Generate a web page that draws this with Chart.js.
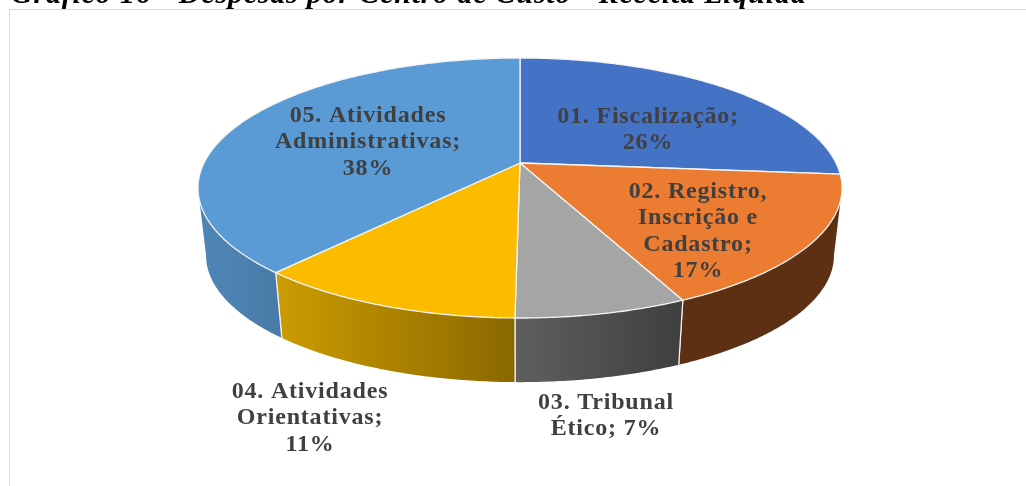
<!DOCTYPE html>
<html><head><meta charset="utf-8">
<style>html,body{margin:0;padding:0;background:#fff;overflow:hidden}canvas{display:block}</style>
<script src="https://cdn.jsdelivr.net/npm/chart.js@4"></script></head>
<body><canvas id="c" width="1026" height="486"></canvas>
<script>
const titleText = 'Gráfico 16 - Despesas por Centro de Custo - Receita Líquida';
const categories = ['01. Fiscalização','02. Registro, Inscrição e Cadastro','03. Tribunal Ético','04. Atividades Orientativas','05. Atividades Administrativas'];
const shares = [26.4, 16.6, 7.2, 11.3, 38.49];
const topColors = ['#4472C4','#EC7C31','#A5A5A5','#FBBC00','#5B9BD5'];
const sideColorsFrom = ['#2F5597','#5E3013','#5F5F5F','#CC9C00','#4F86B8'];
const sideColorsTo = ['#2F5597','#5E3013','#3F3F3F','#8A6800','#4A7BA8'];
const labelLines = [
  ['01. Fiscalização;'],
  ['02. Registro,','Inscrição e','Cadastro;'],
  ['03. Tribunal','Ético;'],
  ['04. Atividades','Orientativas;'],
  ['05. Atividades','Administrativas;']
];

const CX=520, CY=163, RX=316, RY=125.2, K=0.1923;
const DEPTH_SCALE=0.975, DEPTH_Y=68;
function proj(a,bottom){
  const u=Math.cos(a), v=Math.sin(a), d=1-K*v;
  const s=bottom?DEPTH_SCALE:1;
  return [CX+s*RX*u/d, CY+(bottom?DEPTH_Y:0)+s*RY*v/d];
}
function trace(ctx,a0,a1,bottom,first){
  const n=Math.max(2,Math.ceil(Math.abs(a1-a0)/0.01));
  for(let i=0;i<=n;i++){
    const p=proj(a0+(a1-a0)*i/n,bottom);
    if(i===0&&first) ctx.moveTo(p[0],p[1]); else ctx.lineTo(p[0],p[1]);
  }
}
const MIN_A=Math.asin(K), MAX_A=Math.PI-Math.asin(K);
const labelAnchors=[
  {x:648,y:117,inline:false},{x:698,y:192,inline:false},{x:606,y:403,inline:true},
  {x:310,y:392,inline:false},{x:368,y:116,inline:false}
];
const pie3d={
  id:'pie3d',
  beforeDatasetDraw(chart,args){
    const ctx=chart.ctx, arcs=chart.getDatasetMeta(args.index).data;
    ctx.save();
    // side walls
    arcs.forEach((e,i)=>{
      const s=e.startAngle, t=e.endAngle;
      const ranges=[[s,t],[s+2*Math.PI,t+2*Math.PI],[s-2*Math.PI,t-2*Math.PI]];
      ranges.forEach(([a,b])=>{
        const a0=Math.max(a,MIN_A), a1=Math.min(b,MAX_A);
        if(a1<=a0) return;
        const p0=proj(a0,false), p1=proj(a1,false);
        const g=ctx.createLinearGradient(Math.min(p0[0],p1[0]),0,Math.max(p0[0],p1[0]),0);
        g.addColorStop(0,sideColorsFrom[i]); g.addColorStop(1,sideColorsTo[i]);
        ctx.beginPath();
        trace(ctx,a0,a1,false,true);
        trace(ctx,a1,a0,true,false);
        ctx.closePath();
        ctx.fillStyle=g; ctx.fill();
        ctx.strokeStyle='#F4F4F4'; ctx.lineWidth=1.2; ctx.lineJoin='round';
        ctx.beginPath();
        if(a0===a){const p=proj(a0,false),q=proj(a0,true);ctx.moveTo(p[0],p[1]);ctx.lineTo(q[0],q[1]);}
        if(a1===b){const p=proj(a1,false),q=proj(a1,true);ctx.moveTo(p[0],p[1]);ctx.lineTo(q[0],q[1]);}
        ctx.stroke();
      });
    });
    // top faces
    arcs.forEach((e,i)=>{
      ctx.beginPath();
      ctx.moveTo(CX,CY);
      trace(ctx,e.startAngle,e.endAngle,false,false);
      ctx.closePath();
      ctx.fillStyle=topColors[i]; ctx.fill();
      ctx.strokeStyle='#F4F4F4'; ctx.lineWidth=1.3; ctx.lineJoin='round'; ctx.stroke();
    });
    ctx.restore();
    return false;
  },
  afterDraw(chart){
    const ctx=chart.ctx, data=chart.data.datasets[0].data;
    ctx.save();
    // frame
    ctx.strokeStyle='#D9D9D9'; ctx.lineWidth=1;
    ctx.beginPath(); ctx.moveTo(9.5,486); ctx.lineTo(9.5,9.5); ctx.lineTo(1026,9.5); ctx.stroke();
    // title (cropped by the page's top edge, as in the picture)
    ctx.fillStyle='#000'; ctx.textAlign='left'; ctx.textBaseline='alphabetic';
    ctx.font='italic bold 30px "Liberation Serif"';
    ctx.letterSpacing='0.8px';
    ctx.fillText(titleText,11,3);
    // labels
    ctx.font='bold 24px "Liberation Serif"';
    ctx.letterSpacing='0.8px';
    ctx.fillStyle='#404040'; ctx.textAlign='center'; ctx.textBaseline='middle';
    labelAnchors.forEach((an,i)=>{
      const pct=Math.round(data[i])+'%';
      const lines=labelLines[i].slice();
      if(an.inline) lines[lines.length-1]+=' '+pct; else lines.push(pct);
      lines.forEach((l,j)=>ctx.fillText(l,an.x,an.y+j*26.2));
    });
    ctx.restore();
  }
};
new Chart(document.getElementById('c'),{
  type:'pie',
  data:{labels:categories,datasets:[{data:shares,backgroundColor:topColors,borderWidth:0}]},
  options:{responsive:false,animation:false,layout:{padding:0},
    plugins:{legend:{display:false},tooltip:{enabled:false},title:{display:false}}},
  plugins:[pie3d]
});
</script></body></html>
